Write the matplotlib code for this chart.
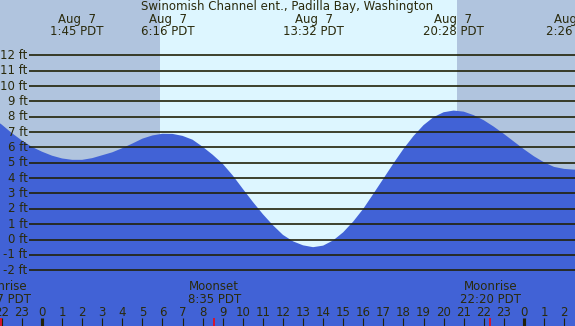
import matplotlib
matplotlib.use("Agg")
import matplotlib.pyplot as plt
import numpy as np

# ---- data ----
title = "Swinomish Channel ent., Padilla Bay, Washington"
hours = [-2.5, -2.0, -1.5, -1.0, -0.5, 0.0, 0.5, 1.0, 1.5, 2.0, 2.5, 3.0, 3.5, 4.0, 4.5,
         5.0, 5.5, 6.0, 6.5, 7.0, 7.5, 8.0, 8.5, 9.0, 9.5, 10.0, 10.5, 11.0, 11.5, 12.0,
         12.5, 13.0, 13.5, 14.0, 14.5, 15.0, 15.5, 16.0, 16.5, 17.0, 17.5, 18.0, 18.5,
         19.0, 19.5, 20.0, 20.5, 21.0, 21.5, 22.0, 22.5, 23.0, 23.5, 24.0, 24.5, 25.0,
         25.5, 26.0, 26.5, 27.0]
tide_ft = [7.95, 7.48, 6.93, 6.45, 6.03, 5.72, 5.46, 5.28, 5.19, 5.19, 5.30, 5.49, 5.68,
           5.95, 6.25, 6.57, 6.78, 6.89, 6.88, 6.75, 6.50, 6.04, 5.52, 4.93, 4.17, 3.30,
           2.45, 1.65, 0.93, 0.30, -0.12, -0.38, -0.50, -0.40, -0.06, 0.47, 1.17, 2.00,
           2.97, 3.96, 4.95, 5.90, 6.74, 7.45, 7.97, 8.29, 8.40, 8.33, 8.10, 7.77, 7.35,
           6.88, 6.38, 5.88, 5.42, 5.03, 4.73, 4.60, 4.55, 4.60]
extreme_hours = [1.75, 6.267, 13.533, 20.467, 26.433]
extreme_labels = ["1:45 PDT", "6:16 PDT", "13:32 PDT", "20:28 PDT", "2:26 PDT"]
extreme_dates = ["Aug  7", "Aug  7", "Aug  7", "Aug  7", "Aug  8"]
sunrise_h = 5.88
sunset_h = 20.67
moon_hours = [-2.05, 8.583, 22.333]
moon_names = ["Moonrise", "Moonset", "Moonrise"]
moon_labels = ["21:57 PDT", "8:35 PDT", "22:20 PDT"]
ft_levels = list(range(-2, 13))
hour_ticks = list(range(-2, 27))

# ---- pixel geometry helpers ----
W, H = 575, 326
X0, PXH = 42.0, 20.08       # pixel of hour 0, pixels per hour
Y0, PXF = 239.5, 15.35      # pixel of 0 ft, pixels per ft
def h(px): return (px - X0) / PXH
def f(py): return (Y0 - py) / PXF

night = "#B0C4DE"
day = "#DDF6FF"
water = "#4162D6"
ink = "#2A2A0C"

fig = plt.figure(figsize=(W / 100, H / 100), dpi=100)
ax = fig.add_axes([0, 0, 1, 1])
ax.set_xlim(h(0), h(W))
ax.set_ylim(f(H), f(0))
ax.axis("off")

ax.axvspan(h(0), h(W), color=day, zorder=0)
ax.axvspan(h(0), sunrise_h, color=night, zorder=0.5, lw=0)
ax.axvspan(sunset_h, h(W), color=night, zorder=0.5, lw=0)

ax.fill_between(hours, tide_ft, f(H + 5), color=water, lw=0, zorder=1)

fs = 8.5
for lv in ft_levels:
    ax.plot([h(29), h(W)], [lv, lv], color="#222208", lw=1.2, zorder=2, solid_capstyle="butt")
    ax.text(h(27.5), lv, f"{lv} ft", ha="right", va="center", fontsize=fs, color=ink, zorder=3)

ax.text(h(287.5), f(7), title, ha="center", va="center", fontsize=fs, color=ink)
for xh, lab, d in zip(extreme_hours, extreme_labels, extreme_dates):
    ax.text(xh, f(25.5), d + "\n" + lab, ha="center", va="center", fontsize=fs,
            color=ink, linespacing=0.97, multialignment="center")

for xh, nm, lab in zip(moon_hours, moon_names, moon_labels):
    ax.text(xh, f(293), nm + "\n" + lab, ha="center", va="center", fontsize=fs,
            color=ink, linespacing=0.97, multialignment="center")

for t in hour_ticks:
    ax.text(t, f(312), str(t % 24), ha="center", va="center", fontsize=fs, color=ink)
    lw = 3 if t % 24 == 0 else 1.1
    ax.plot([t, t], [f(318), f(H + 2)], color="#222208", lw=lw * 0.75, zorder=3, solid_capstyle="butt")
for mh in moon_hours:
    ax.plot([mh, mh], [f(318), f(H + 2)], color="red", lw=1.1, zorder=4, solid_capstyle="butt")

fig.savefig("out.png", dpi=100)
